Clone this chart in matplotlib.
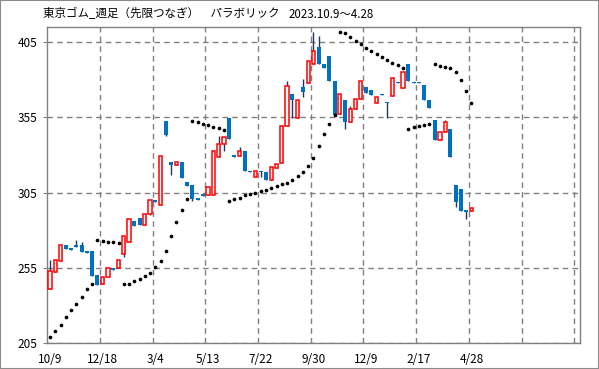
import matplotlib
matplotlib.use('Agg')
import matplotlib.pyplot as plt
import numpy as np
from matplotlib.patches import Rectangle

plt.rcParams['font.family'] = ['Noto Sans CJK JP', 'DejaVu Sans']

# 週足の目盛ラベル (10本ごと)
tick_labels = ['10/9', '12/18', '3/4', '5/13', '7/22', '9/30', '12/9', '2/17', '4/28']

opens = [240.8, 252.4, 259.9, 270.1, 268.1, 270.1, 270.1, 266.3, 266.3, 250.2,
         244.1, 248.7, 254.9, 254.7, 264.6, 272.5, 286.0, 288.2, 283.8, 291.1,
         299.9, 297.1, 352.9, 325.1, 323.6, 325.1, 311.8, 309.8, 301.4, 303.8,
         303.4, 303.4, 328.8, 337.5, 354.9, 329.7, 329.5, 333.0, 319.5, 315.3,
         319.5, 319.0, 313.3, 321.5, 324.5, 349.1, 370.8, 354.7, 375.4, 377.8,
         390.4, 401.9, 390.6, 395.9, 379.4, 357.3, 366.8, 351.8, 360.6, 367.2,
         375.4, 373.4, 364.5, 370.8, 365.5, 369.0, 378.7, 374.3, 390.6, 378.7,
         378.7, 376.7, 366.8, 353.5, 339.8, 345.1, 347.6, 310.0, 307.2, 293.3,
         292.8]
highs = [260.2, 260.2, 270.1, 270.1, 268.1, 273.9, 272.1, 266.3, 266.3, 250.2,
         248.7, 254.7, 254.9, 260.2, 276.1, 287.8, 286.0, 288.2, 291.1, 299.9,
         299.9, 329.5, 352.9, 325.1, 325.1, 325.1, 311.8, 309.8, 301.4, 303.8,
         309.0, 333.5, 342.9, 342.0, 354.9, 329.7, 335.2, 333.0, 319.5, 319.5,
         319.5, 319.0, 321.8, 324.2, 349.1, 379.4, 370.8, 366.8, 380.5, 392.6,
         411.4, 409.2, 390.6, 395.9, 379.4, 370.6, 366.8, 362.4, 367.0, 379.2,
         375.4, 373.4, 368.5, 370.8, 365.5, 381.2, 378.7, 385.1, 390.6, 378.7,
         378.7, 376.7, 366.8, 353.5, 345.4, 353.5, 347.6, 310.0, 307.2, 293.3,
         295.1]
lows = [240.8, 252.4, 259.9, 267.5, 266.8, 269.0, 265.7, 265.0, 249.6, 243.8,
        244.1, 248.7, 253.8, 254.7, 262.4, 272.5, 282.9, 283.8, 283.8, 290.5,
        298.8, 297.1, 342.5, 316.7, 323.6, 314.7, 309.4, 299.4, 300.4, 302.8,
        303.4, 303.4, 328.8, 332.8, 340.8, 328.6, 329.5, 319.3, 318.4, 315.3,
        315.3, 313.3, 313.3, 321.5, 324.5, 349.1, 354.7, 354.7, 368.3, 377.8,
        390.4, 390.2, 387.5, 378.9, 356.9, 357.3, 347.1, 351.8, 360.6, 367.2,
        371.0, 370.1, 364.5, 369.6, 354.7, 369.0, 377.6, 374.3, 378.9, 377.6,
        377.6, 366.3, 361.0, 339.8, 339.8, 345.1, 329.0, 295.4, 292.8, 287.3,
        292.8]
closes = [252.9, 260.2, 270.1, 267.5, 266.8, 269.0, 265.7, 265.0, 249.6, 243.8,
          248.7, 254.7, 253.8, 260.2, 276.1, 287.8, 282.9, 283.8, 291.1, 299.9,
          298.8, 329.5, 343.2, 323.3, 325.1, 314.7, 309.4, 300.8, 300.4, 302.8,
          309.0, 333.0, 337.5, 342.0, 340.8, 328.6, 332.8, 319.3, 318.4, 319.5,
          318.4, 313.3, 321.8, 324.2, 349.1, 375.9, 366.8, 366.8, 372.1, 392.6,
          399.2, 390.2, 387.5, 378.9, 356.9, 370.6, 351.8, 360.6, 367.0, 379.2,
          371.0, 370.1, 368.5, 369.6, 364.4, 381.2, 377.6, 385.1, 378.9, 377.6,
          377.6, 366.3, 361.0, 339.8, 345.4, 351.6, 329.0, 298.6, 292.8, 292.2,
          295.1]
sar = [209.2, 212.9, 216.9, 222.2, 226.9, 230.8, 235.9, 241.0, 244.7, 273.9,
       273.0, 272.5, 272.5, 271.9, 244.1, 244.7, 246.3, 248.0, 249.4, 252.0,
       255.7, 259.5, 266.6, 276.5, 285.6, 293.7, 301.1, 352.7, 352.0, 350.7,
       350.0, 348.9, 348.1, 346.7, 299.4, 300.8, 301.7, 303.2, 304.3, 305.0,
       306.1, 307.0, 308.3, 309.4, 310.5, 311.2, 313.6, 316.3, 318.9, 322.4,
       328.0, 335.9, 343.8, 350.4, 356.7, 411.4, 410.9, 408.1, 405.4, 403.4,
       400.8, 399.0, 396.8, 395.3, 393.1, 391.0, 389.8, 387.8, 347.4, 348.7,
       349.4, 350.0, 350.9, 390.4, 389.3, 388.6, 387.8, 385.1, 379.8, 372.5,
       364.6]

o = np.array(opens)
h = np.array(highs)
l = np.array(lows)
c = np.array(closes)
x = np.arange(len(o))
up = c >= o

fig = plt.figure(figsize=(5.99, 3.69), dpi=100)
ax = fig.add_axes([47.4 / 599, 1 - 343.3 / 369, (579.5 - 47.4) / 599, (343.3 - 27) / 369])

# ヒゲ
ax.vlines(x, l, h, color='#1f3864', lw=1, zorder=3)
# 陰線 (塗りつぶし青)
ax.bar(x[~up], (o - c)[~up], bottom=c[~up], width=0.76, color='#0070c0', zorder=4)
# 陽線 (中抜き赤)
ax.bar(x[up], (c - o)[up], bottom=o[up], width=0.62, facecolor='white',
       edgecolor='red', lw=1.1, zorder=4)
# パラボリック
ax.scatter(x, sar, s=7, color='black', marker='o', zorder=5, linewidths=0)

ax.set_xlim(-0.5, 100.5)
ax.set_ylim(205, 415)
ax.set_yticks(range(205, 406, 50))
ax.set_xticks(np.arange(len(tick_labels)) * 10)
ax.set_xticklabels(tick_labels)
ax.set_xticks(np.arange(9.5, 100, 10), minor=True)

ax.grid(axis='y', which='major', color='#808080', ls=(0, (4, 3)), lw=1, zorder=1)
ax.grid(axis='x', which='minor', color='#808080', ls=(0, (4, 3)), lw=1, zorder=1)
ax.tick_params(axis='x', which='both', length=0, pad=7, labelsize=8.5)
ax.tick_params(axis='y', length=3, color='#808080', pad=4, labelsize=8.5)
for s in ax.spines.values():
    s.set_color('#808080')
    s.set_linewidth(1)

fig.text(43 / 599, 1 - 14 / 369, '東京ゴム_週足（先限つなぎ）　パラボリック',
         fontsize=8.3, va='center', ha='left')
fig.text(289 / 599, 1 - 14 / 369, '2023.10.9～4.28', fontsize=8.3, va='center', ha='left')

fig.add_artist(Rectangle((0, 0), 1, 1, transform=fig.transFigure, fill=False,
                         ec='#8a8a8a', lw=1.5))

fig.savefig('out.png', dpi=100)
